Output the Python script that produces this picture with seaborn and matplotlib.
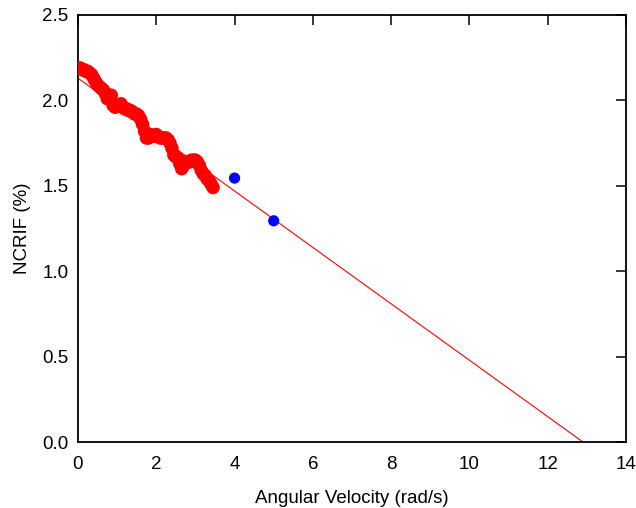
import matplotlib
matplotlib.use("Agg")
import matplotlib.pyplot as plt
import pandas as pd
import seaborn as sns

red_x = [0.00, 0.05, 0.10, 0.15, 0.20, 0.25, 0.30, 0.35, 0.40, 0.45,
         0.50, 0.55, 0.60, 0.65, 0.70, 0.75, 0.80, 0.85, 0.90, 0.95,
         1.00, 1.05, 1.10, 1.15, 1.20, 1.25, 1.30, 1.35, 1.40, 1.45,
         1.50, 1.55, 1.60, 1.65, 1.70, 1.75, 1.80, 1.85, 1.90, 1.95,
         2.00, 2.05, 2.10, 2.15, 2.20, 2.25, 2.30, 2.35, 2.40, 2.45,
         2.50, 2.55, 2.60, 2.65, 2.70, 2.75, 2.80, 2.85, 2.90, 2.95,
         3.00, 3.05, 3.10, 3.15, 3.20, 3.25, 3.30, 3.35, 3.40, 3.45]
red_y = [2.19, 2.19, 2.18, 2.18, 2.17, 2.17, 2.16, 2.15, 2.13, 2.11,
         2.09, 2.08, 2.07, 2.06, 2.04, 2.01, 2.03, 2.03, 1.97, 1.96,
         1.97, 1.97, 1.98, 1.96, 1.95, 1.95, 1.94, 1.94, 1.93, 1.92,
         1.92, 1.91, 1.89, 1.86, 1.82, 1.78, 1.78, 1.80, 1.79, 1.79,
         1.80, 1.79, 1.78, 1.78, 1.78, 1.78, 1.77, 1.75, 1.72, 1.68,
         1.67, 1.66, 1.63, 1.60, 1.62, 1.64, 1.64, 1.64, 1.65, 1.65,
         1.65, 1.64, 1.62, 1.59, 1.57, 1.56, 1.54, 1.53, 1.51, 1.49]

# Extra points (blue)
blue_x = [4.0, 5.0]
blue_y = [1.545, 1.295]

# Linear fit
fit_x = [0.0, 12.9]
fit_y = [2.13, 0.0]

df_red = pd.DataFrame({'x': red_x, 'y': red_y})
df_blue = pd.DataFrame({'x': blue_x, 'y': blue_y})
df_fit = pd.DataFrame({'x': fit_x, 'y': fit_y})

sns.set_style('white')
plt.rcParams['font.family'] = ['Liberation Sans', 'DejaVu Sans']

fig = plt.figure(figsize=(6.36, 5.08), dpi=100)
ax = fig.add_axes([0.1226, 0.1299, 0.8617, 0.8406])

sns.lineplot(data=df_fit, x='x', y='y', color='#ff0000', linewidth=0.8, ax=ax)
sns.scatterplot(data=df_red, x='x', y='y', color='#ff0000', s=95,
                edgecolor='none', ax=ax, zorder=3)
sns.scatterplot(data=df_blue, x='x', y='y', color='#0000ff', s=65,
                edgecolor='none', ax=ax, zorder=3)

ax.set_xlim(0, 14)
ax.set_ylim(0, 2.5)
ax.set_xticks(range(0, 15, 2))
ax.set_yticks([0.0, 0.5, 1.0, 1.5, 2.0, 2.5])
ax.set_yticklabels(['0.0', '0.5', '1.0', '1.5', '2.0', '2.5'])

ax.tick_params(direction='in', length=7.5, width=1.1, top=True, right=True,
               labelsize=13.5, colors='black')
ax.tick_params(axis='x', pad=10)
ax.tick_params(axis='y', pad=7)
for sp in ax.spines.values():
    sp.set_visible(True)
    sp.set_color('black')
    sp.set_linewidth(1.3)

ax.set_xlabel('Angular Velocity (rad/s)', fontsize=13.5, labelpad=12, color='black')
ax.set_ylabel('NCRIF (%)', fontsize=13.5, labelpad=8, color='black')

fig.savefig('out.png', dpi=100)
